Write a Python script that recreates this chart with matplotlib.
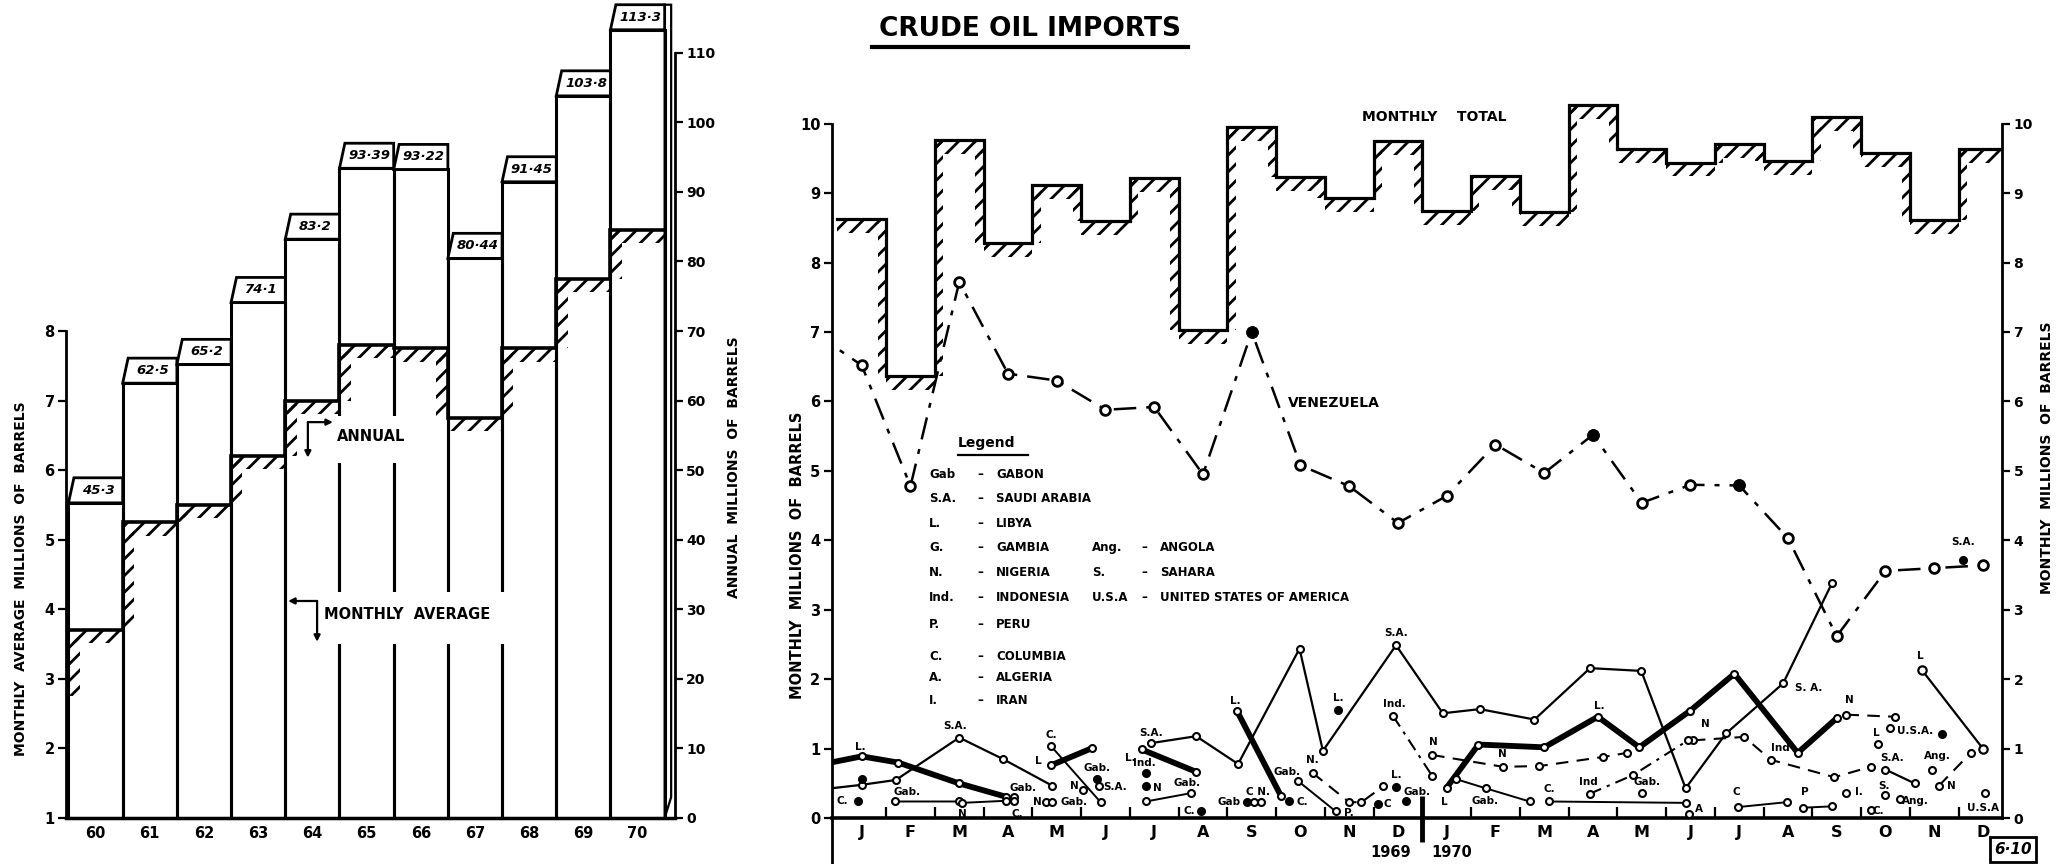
import numpy as np
import matplotlib
matplotlib.use("Agg")
import matplotlib.pyplot as plt
from matplotlib.patches import Rectangle, Polygon, FancyArrowPatch
from matplotlib.lines import Line2D

plt.rcParams['font.family'] = ['DejaVu Sans']
plt.rcParams['font.weight'] = 'bold'
plt.rcParams['hatch.linewidth'] = 2.0

# ---------------- annual imports 1960 - 1970 ----------------
years = ['60', '61', '62', '63', '64', '65', '66', '67', '68', '69', '70']
annual_total = [45.3, 62.5, 65.2, 74.1, 83.2, 93.39, 93.22, 80.44, 91.45, 103.8, 113.3]
annual_text = ['45·3', '62·5', '65·2', '74·1', '83·2', '93·39', '93·22', '80·44', '91·45', '103·8', '113·3']
monthly_average = [3.7, 5.25, 5.5, 6.2, 7.0, 7.8, 7.75, 6.75, 7.75, 8.75, 9.45]

# ---------------- monthly imports 1969 - 1970 ----------------
month_letters = list('JFMAMJJASOND') * 2
monthly_total = [8.63, 6.36, 9.76, 8.28, 9.11, 8.6, 9.22, 7.03, 9.95, 9.23, 8.93, 9.75,
                 8.74, 9.25, 8.73, 10.27, 9.63, 9.44, 9.71, 9.46, 10.1, 9.58, 8.61, 9.63]
# Venezuela starts with Dec 1968 (month -1, off the left edge)
venezuela_month = list(range(-1, 24))
venezuela = [7.0, 6.52, 4.78, 7.72, 6.40, 6.30, 5.88, 5.92, 4.95, 7.0, 5.08, 4.78, 4.25,
             4.64, 5.38, 4.97, 5.52, 4.54, 4.80, 4.79, 4.03, 2.62, 3.56, 3.60, 3.64]
venezuela_filled = [8, 15, 18]

# smaller suppliers: runs of (month, value) joined by a line
saudi_runs = [
    ([-1, 0, 0.7, 2, 2.9, 3.9], [0.40, 0.48, 0.55, 1.16, 0.85, 0.47]),
    ([5.93, 6.86, 7.72, 8.98, 9.46, 10.96, 11.92, 12.68, 13.8, 14.94, 15.99, 16.9, 17.73, 18.9, 19.9],
     [1.08, 1.18, 0.78, 2.44, 0.97, 2.49, 1.51, 1.57, 1.42, 2.16, 2.12, 0.43, 1.22, 1.94, 3.38]),
    ([21.0, 21.6], [0.70, 0.50]),
]
libya_runs = [
    ([-1, 0, 0.75, 2, 2.95], [0.75, 0.89, 0.80, 0.50, 0.31]),
    ([3.88, 4.73], [0.76, 1.01]),
    ([5.74, 6.85], [0.99, 0.67]),
    ([7.7, 8.6], [1.54, 0.32]),
    ([12.0, 12.65, 14.0, 15.1, 15.95, 17.0, 17.9, 19.2, 20.0],
     [0.44, 1.06, 1.02, 1.46, 1.02, 1.55, 2.08, 0.94, 1.44]),
]
libya_thin_runs = [([21.75, 23.0], [2.13, 1.0])]
nigeria_runs = [
    ([9.25, 10.0, 10.25, 10.7], [0.65, 0.23, 0.23, 0.46]),
    ([11.7, 13.15, 13.9, 15.2, 15.7], [0.91, 0.74, 0.75, 0.88, 0.94]),
    ([17.05, 18.1, 18.65, 19.95, 20.7], [1.12, 1.17, 0.84, 0.59, 0.74]),
    ([20.2, 21.2], [1.49, 1.46]),
    ([22.1, 22.75], [0.47, 0.94]),
]
indonesia_runs = [([10.9, 11.7], [1.47, 0.61]), ([14.93, 15.82, 16.95], [0.35, 0.62, 1.12])]
gabon_runs = [([0.68, 2.0, 2.05, 2.95], [0.24, 0.24, 0.22, 0.25]), ([5.83, 6.75], [0.24, 0.36]),
              ([8.94, 9.72], [0.54, 0.10]), ([12.2, 12.8, 13.7], [0.56, 0.43, 0.24])]
columbia_runs = [([3.88, 4.9], [1.04, 0.23]), ([14.1, 16.9], [0.24, 0.22]), ([17.98, 18.97], [0.16, 0.23])]
peru_runs = [([19.3, 19.9], [0.15, 0.17])]

# single readings (month, value, filled dot?)
single_month = [-0.08, 0.0, 3.12, 3.12, 3.78, 3.9, 4.53, 4.83, 4.87, 5.83, 5.83, 6.96, 7.9, 8.05, 8.2,
                8.77, 9.77, 10.6, 10.96, 11.17, 16.0, 16.96, 20.2, 20.7, 20.85, 21.1, 22.15, 21.0,
                21.3, 21.95, 22.6, 23.05]
single_value = [0.24, 0.56, 0.31, 0.24, 0.23, 0.23, 0.41, 0.57, 0.46, 0.65, 0.46, 0.11, 0.23, 0.23, 0.23,
                0.24, 1.56, 0.21, 0.45, 0.24, 0.36, 0.06, 0.36, 0.12, 1.07, 1.30, 1.21, 0.33,
                0.27, 0.70, 3.71, 0.36]
single_filled = [1, 1, 0, 0, 0, 0, 0, 1, 0, 1, 1, 1, 1, 0, 0,
                 1, 1, 1, 1, 1, 0, 0, 0, 0, 0, 0, 1, 0,
                 0, 0, 1, 0]

# point labels (text, month, value)
point_labels = [
    ('L.', -0.03, 1.02), ('S.A.', 1.92, 1.33), ('C.', -0.4, 0.24), ('Gab.', 0.93, 0.38), ('N', 2.06, 0.06),
    ('Gab.', 3.3, 0.43), ('C.', 3.19, 0.06), ('C.', 3.88, 1.2), ('L', 3.62, 0.82), ('Gab.', 4.83, 0.72),
    ('N', 4.36, 0.47), ('S.A.', 5.2, 0.45), ('N', 3.6, 0.23), ('Gab.', 4.36, 0.23), ('S.A.', 5.93, 1.22),
    ('L.', 5.5, 0.87), ('Ind.', 5.79, 0.8), ('N', 6.07, 0.44), ('Gab.', 6.68, 0.5), ('C.', 6.72, 0.11),
    ('Gab', 7.54, 0.23), ('L.', 7.67, 1.69), ('C N.', 8.12, 0.38), ('Gab.', 8.72, 0.67), ('C.', 9.03, 0.23),
    ('N.', 9.25, 0.84), ('L.', 9.77, 1.73), ('P.', 10.0, 0.08), ('C', 10.78, 0.21), ('Ind.', 10.93, 1.65),
    ('L.', 10.96, 0.62), ('Gab.', 11.4, 0.37), ('N', 11.73, 1.1), ('L', 11.96, 0.23), ('N', 13.15, 0.93),
    ('Gab.', 12.78, 0.24), ('C.', 14.11, 0.42), ('Ind', 14.9, 0.52), ('L.', 15.13, 1.62), ('S.A.', 10.96, 2.67),
    ('Gab.', 16.11, 0.52), ('N', 17.3, 1.35), ('A', 17.18, 0.13), ('C', 17.95, 0.38), ('Ind', 18.84, 1.01),
    ('S. A.', 19.42, 1.87), ('P', 19.35, 0.38), ('N', 20.26, 1.7), ('I.', 20.45, 0.38), ('C.', 20.85, 0.11),
    ('L', 20.82, 1.22), ('U.S.A.', 21.6, 1.26), ('S.A.', 21.13, 0.86), ('S.', 20.96, 0.47), ('Ang.', 21.62, 0.25),
    ('Ang.', 22.06, 0.89), ('N', 22.35, 0.46), ('L', 21.71, 2.33), ('U.S.A', 23.0, 0.14), ('S.A.', 22.6, 3.97),
]

legend_rows = [('Gab', 'GABON'), ('S.A.', 'SAUDI ARABIA'), ('L.', 'LIBYA'), ('G.', 'GAMBIA'),
               ('N.', 'NIGERIA'), ('Ind.', 'INDONESIA'), ('P.', 'PERU'), ('C.', 'COLUMBIA'),
               ('A.', 'ALGERIA'), ('I.', 'IRAN')]
legend_extra = [('Ang.', 'ANGOLA'), ('S.', 'SAHARA'), ('U.S.A', 'UNITED STATES OF AMERICA')]

W, H = 1568.0, 657.0  # layout measured on the reduced reference


def fx(x):
    return x / W


def fy(y):
    return 1 - y / H


def hatched_steps(ax, edges, vals, dx, dy, start=None, lw=2.4):
    # step outline
    xs, ys = [], []
    if start is not None:
        xs.append(edges[0])
        ys.append(start)
    for i, v in enumerate(vals):
        xs += [edges[i], edges[i + 1]]
        ys += [v, v]
    ax.plot(xs, ys, color='black', lw=lw, solid_joinstyle='miter', zorder=3)

    # short hatch strokes on the underside of the outline
    def band(x, y, w, h):
        ax.add_patch(Rectangle((x, y), w, h, fill=False, hatch='//', edgecolor='black', lw=0, zorder=2))

    for i, v in enumerate(vals):
        band(edges[i], v - dy, edges[i + 1] - edges[i], dy)
    for i in range(1, len(vals)):
        lo, hi = sorted((vals[i - 1], vals[i]))
        x0 = edges[i] if vals[i] > vals[i - 1] else edges[i] - dx
        band(x0, lo, dx, hi - lo)
    if start is not None:
        band(edges[0], start, dx, vals[0] - start)


fig = plt.figure(figsize=(20.63, 8.64), dpi=100)

# ================= left panel =================
ax = fig.add_axes([fx(50), 0.0, fx(513) - fx(50), 1.0])
ax2 = ax.twinx()
ylo, yhi = 1 - 35 / 52.9, 1 + 622 / 52.9
ax.set_ylim(ylo, yhi)
ax2.set_ylim((ylo - 1) * 10, (yhi - 1) * 10)
ax.set_xlim(-0.55, 10.69)
ax.patch.set_visible(False)

xb = np.arange(len(years))
ax2.bar(xb, annual_total, width=1.0, fill=False, edgecolor='black', linewidth=2.2, zorder=2)
box_h = 3.6
for i, (v, t) in enumerate(zip(annual_total, annual_text)):
    ax2.add_patch(Polygon([(i - 0.5, v), (i - 0.4, v + box_h), (i + 0.5, v + box_h), (i + 0.5, v)],
                          closed=True, facecolor='white', edgecolor='black', lw=2, zorder=4))
    ax2.text(i + 0.05, v + box_h / 2, t, ha='center', va='center', fontsize=9.5, style='italic', zorder=5)
# depth of the last bar
ax2.add_patch(Polygon([(10.5, 0), (10.62, 3), (10.62, annual_total[-1] + box_h), (10.5, annual_total[-1] + box_h)],
                      closed=True, fill=False, edgecolor='black', lw=1.6, zorder=3))

hatched_steps(ax, np.arange(len(years) + 1) - 0.5, monthly_average, dx=0.21, dy=0.19,
              start=monthly_average[0] - 0.95, lw=2.6)

for s in ['top', 'right']:
    ax.spines[s].set_visible(False)
ax.spines['left'].set_bounds(1, 8)
ax.spines['left'].set_linewidth(2)
ax.spines['bottom'].set_position(('data', 1))
ax.spines['bottom'].set_linewidth(2.5)
ax.set_yticks(range(1, 9))
ax.tick_params(axis='y', direction='out', length=6, width=1.6, labelsize=10.5, pad=2)
ax.set_xticks(xb)
ax.set_xticklabels(years)
ax.tick_params(axis='x', length=0, labelsize=10.5, pad=6)

for s in ['top', 'left', 'bottom']:
    ax2.spines[s].set_visible(False)
ax2.spines['right'].set_bounds(0, 110)
ax2.spines['right'].set_linewidth(2)
ax2.set_yticks(range(0, 111, 10))
ax2.tick_params(axis='y', direction='out', length=6, width=1.6, labelsize=10, pad=2)

fig.text(fx(16), fy(440), 'MONTHLY  AVERAGE  MILLIONS  OF  BARRELS', rotation=90, ha='center', va='center',
         fontsize=10)
fig.text(fx(558), fy(355), 'ANNUAL  MILLIONS  OF  BARRELS', rotation=90, ha='center', va='center', fontsize=10)

# ANNUAL / MONTHLY AVERAGE call-outs
for (x0, y0, x1, y1) in [(240, 316, 322, 352), (240, 450, 392, 490)]:
    fig.add_artist(Rectangle((fx(x0), fy(y1)), fx(x1) - fx(x0), fy(y0) - fy(y1), transform=fig.transFigure,
                             facecolor='white', edgecolor='none', zorder=5))
fig.text(fx(256), fy(332), 'ANNUAL', ha='left', va='center', fontsize=10.5, zorder=6)
fig.text(fx(246), fy(467), 'MONTHLY  AVERAGE', ha='left', va='center', fontsize=10.5, zorder=6)
for a, b in [((234, 321), (253, 321)), ((234, 321), (234, 348)), ((241, 457), (219, 457)), ((241, 457), (241, 488))]:
    fig.add_artist(FancyArrowPatch((fx(a[0]), fy(a[1])), (fx(b[0]), fy(b[1])), transform=fig.transFigure,
                                   arrowstyle='-|>', mutation_scale=9, lw=1.6, color='black',
                                   shrinkA=0, shrinkB=0, zorder=7))

# ================= right panel =================
ax3 = fig.add_axes([fx(632), 0.0, fx(1522) - fx(632), fy(67.6)])
ax4 = ax3.twinx()
ax3.set_xlim(-0.62, 23.4)
ax3.set_ylim(-0.66, 10.5)
ax4.set_ylim(-0.66, 10.5)

hatched_steps(ax3, np.arange(25) - 0.5, monthly_total, dx=0.17, dy=0.2, lw=2.3)

ax3.plot(venezuela_month, venezuela, color='black', lw=1.8, ls=(0, (9, 4, 2, 4)), marker='o', ms=7,
         mfc='white', mec='black', mew=2, markevery=list(range(1, len(venezuela))), zorder=5)
ax3.plot(venezuela_filled, [venezuela[m + 1] for m in venezuela_filled], 'o', ms=8, color='black', zorder=6)


def draw_runs(runs, **kw):
    for m, v in runs:
        ax3.plot(m, v, color='black', marker='o', mfc='white', mec='black', zorder=5, **kw)


draw_runs(saudi_runs, lw=1.6, ms=5, mew=1.5)
draw_runs(libya_runs, lw=4.2, ms=5, mew=1.5, solid_capstyle='round')
draw_runs(libya_thin_runs, lw=1.6, ms=6, mew=1.6)
draw_runs(nigeria_runs, lw=1.5, ls=(0, (6, 4)), ms=5, mew=1.5)
draw_runs(indonesia_runs, lw=1.5, ls=(0, (6, 3, 1.5, 3)), ms=5, mew=1.5)
draw_runs(gabon_runs, lw=1.4, ms=5, mew=1.5)
draw_runs(columbia_runs, lw=1.4, ms=5, mew=1.5)
draw_runs(peru_runs, lw=1.4, ms=5, mew=1.5)
for m, v, f in zip(single_month, single_value, single_filled):
    ax3.plot(m, v, 'o', ms=5, mew=1.5, mec='black', mfc='black' if f else 'white', zorder=6)
for t, m, v in point_labels:
    ax3.text(m, v, t, ha='center', va='center', fontsize=7.5, zorder=7)

ax3.text(10.27, 10.1, 'MONTHLY    TOTAL', ha='left', va='center', fontsize=10)
ax3.text(8.75, 5.98, 'VENEZUELA', ha='left', va='center', fontsize=10)

for s in ['top', 'right']:
    ax3.spines[s].set_visible(False)
ax3.spines['left'].set_bounds(-0.66, 10)
ax3.spines['left'].set_linewidth(2)
ax3.spines['bottom'].set_position(('data', 0))
ax3.spines['bottom'].set_linewidth(2.6)
ax3.set_yticks(range(0, 11))
ax3.tick_params(axis='y', direction='out', length=6, width=1.6, labelsize=10.5, pad=2)
ax3.set_xticks(range(24))
ax3.set_xticklabels(month_letters)
ax3.tick_params(axis='x', which='major', length=0, labelsize=11.5, pad=5)
ax3.set_xticks([i + 0.5 for i in range(23) if i != 11], minor=True)
ax3.tick_params(axis='x', which='minor', direction='in', length=8, width=1.6)
ax3.vlines(11.5, -0.35, 0.32, color='black', lw=3.5)
ax3.text(10.84, -0.5, '1969', ha='center', va='center', fontsize=10.5)
ax3.text(12.1, -0.5, '1970', ha='center', va='center', fontsize=10.5)

for s in ['top', 'left', 'bottom']:
    ax4.spines[s].set_visible(False)
ax4.spines['right'].set_bounds(0, 10)
ax4.spines['right'].set_linewidth(2)
ax4.set_yticks(range(0, 11))
ax4.tick_params(axis='y', direction='out', length=6, width=1.6, labelsize=10, pad=2)

fig.text(fx(606), fy(422), 'MONTHLY  MILLIONS  OF  BARRELS', rotation=90, ha='center', va='center', fontsize=10.5)
fig.text(fx(1556), fy(348), 'MONTHLY  MILLIONS  OF  BARRELS', rotation=90, ha='center', va='center', fontsize=10)

# title
fig.text(fx(783), fy(22), 'CRUDE OIL IMPORTS', ha='center', va='center', fontsize=19)
fig.add_artist(Line2D([fx(663), fx(903)], [fy(36), fy(36)], transform=fig.transFigure, color='black', lw=3))

# legend block
fig.text(fx(728), fy(337), 'Legend', ha='left', va='center', fontsize=10)
fig.add_artist(Line2D([fx(728), fx(781)], [fy(346), fy(346)], transform=fig.transFigure, color='black', lw=1.6))
legend_y = [361, 379, 398, 416.5, 435.5, 454.5, 475, 499, 515, 533]
for (ab, name), y in zip(legend_rows, legend_y):
    fig.text(fx(706), fy(y), ab, ha='left', va='center', fontsize=8.5)
    fig.text(fx(745), fy(y), '–', ha='center', va='center', fontsize=8.5)
    fig.text(fx(757), fy(y), name, ha='left', va='center', fontsize=8.5)
for (ab, name), y in zip(legend_extra, legend_y[3:6]):
    fig.text(fx(830), fy(y), ab, ha='left', va='center', fontsize=8.5)
    fig.text(fx(870), fy(y), '–', ha='center', va='center', fontsize=8.5)
    fig.text(fx(882), fy(y), name, ha='left', va='center', fontsize=8.5)

# plate number
fig.text(fx(1530), fy(646), '6·10', ha='center', va='center', fontsize=11, style='italic',
         bbox=dict(boxstyle='square,pad=0.3', facecolor='white', edgecolor='black', lw=2))

fig.savefig('out.png', dpi=100)
